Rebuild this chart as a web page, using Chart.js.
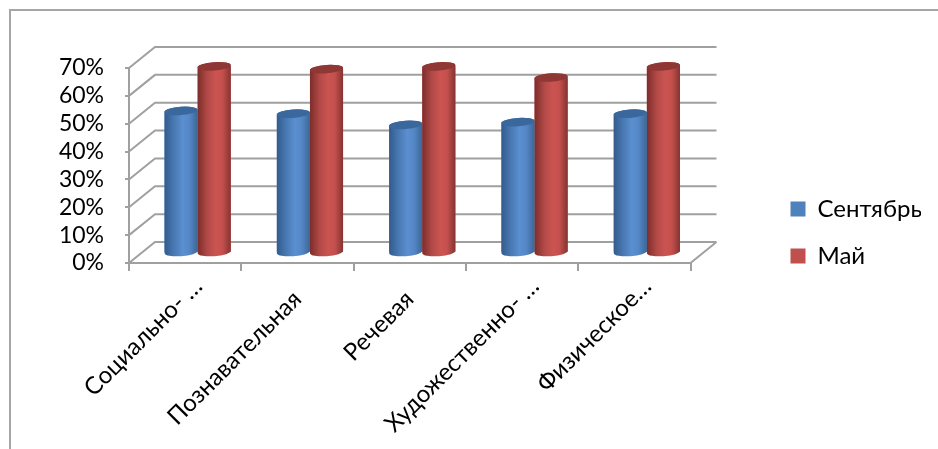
<!DOCTYPE html>
<html>
<head>
<meta charset="utf-8">
<script src="https://cdn.jsdelivr.net/npm/chart.js@4"></script>
<style>
  html, body { margin: 0; padding: 0; background: #fff; }
  #wrap { position: relative; width: 938px; height: 449px; overflow: hidden; }
  #frame { position: absolute; left: 9px; top: 9px; right: -4px; bottom: -4px; border: 2px solid #a6a6a6; }
  canvas { position: absolute; left: 0; top: 0; }
</style>
</head>
<body>
<div id="wrap">
  <div id="frame"></div>
  <canvas id="chart" width="938" height="449"></canvas>
</div>
<script>
const categories = ['Социально- …', 'Познавательная', 'Речевая', 'Художественно- …', 'Физическое…'];
const september = [51, 50, 46, 47, 50];
const may = [67, 66, 67, 63, 67];
const yTicks = [0, 10, 20, 30, 40, 50, 60, 70];

const axisColor = '#a0a0a0';
const FONT = 'Lato, "Noto Sans", sans-serif';
// depth of the fake 3d box and where the bars stand in it
const depth = { x: 26, y: -21 };
const barShift = { x: 12.5, y: -10 };

// back wall, side wall and floor, drawn behind the bars
const box3d = {
  id: 'box3d',
  beforeDatasetsDraw(chart) {
    const { ctx, scales: { x, y } } = chart;
    const left = x.left, right = x.right;
    ctx.save();
    ctx.strokeStyle = axisColor;
    ctx.lineWidth = 2;
    ctx.beginPath();
    yTicks.forEach(v => {
      const py = y.getPixelForValue(v);
      ctx.moveTo(left, py);
      ctx.lineTo(left + depth.x, py + depth.y);
      ctx.lineTo(right + depth.x, py + depth.y);
    });
    const p0 = y.getPixelForValue(0);
    ctx.moveTo(right, p0);
    ctx.lineTo(right + depth.x, p0 + depth.y);
    ctx.stroke();
    ctx.restore();
  }
};

// turns each bar into a cylinder, painted here so the red ones end up over the blue
const shades = [
  { stops: ['#335b8c', '#4a7ab5', '#5b8fd0', '#5587c6', '#3a6798'], top: '#3b689c' },
  { stops: ['#7c2d2b', '#b34a47', '#cb5451', '#c4504d', '#853331'], top: '#8f3735' }
];
const cylinders = {
  id: 'cylinders',
  beforeDatasetsDraw(chart) {
    chart.ctx.save();
    chart.ctx.translate(barShift.x, barShift.y);
  },
  afterDatasetsDraw(chart) {
    const { ctx } = chart;
    chart.data.datasets.forEach((ds, di) => {
      const shade = shades[di];
      chart.getDatasetMeta(di).data.forEach(bar => {
        const l = bar.x - bar.width / 2, r = bar.x + bar.width / 2;
        const rx = bar.width / 2, ry = 4.2, tilt = -0.07;
        const g = ctx.createLinearGradient(l, 0, r, 0);
        [0, 0.3, 0.55, 0.75, 1].forEach((s, i) => g.addColorStop(s, shade.stops[i]));
        ctx.fillStyle = g;
        ctx.beginPath();
        ctx.ellipse(bar.x, bar.base, rx, ry, tilt, 0, Math.PI);
        ctx.ellipse(bar.x, bar.y, rx, ry, tilt, Math.PI, 0);
        ctx.closePath();
        ctx.fill();
        ctx.fillStyle = shade.top;
        ctx.beginPath();
        ctx.ellipse(bar.x, bar.y, rx, ry, tilt, 0, Math.PI * 2);
        ctx.fill();
      });
    });
    ctx.restore();
  }
};

new Chart(document.getElementById('chart'), {
  type: 'bar',
  data: {
    labels: categories,
    datasets: [
      { label: 'Сентябрь', data: september, backgroundColor: '#4f81bd', clip: false,
        categoryPercentage: 0.59, barPercentage: 1 },
      { label: 'Май', data: may, backgroundColor: '#c0504d', clip: false,
        categoryPercentage: 0.59, barPercentage: 1 }
    ]
  },
  options: {
    responsive: false,
    animation: false,
    layout: { padding: { top: 68, bottom: 11, left: 0, right: 17 } },
    plugins: {
      tooltip: { enabled: false },
      legend: {
        position: 'right',
        align: 'start',
        // blank title only pushes the entries down to their place
        title: { display: true, text: ' ', font: { size: 10 }, padding: { top: 0, bottom: 94 } },
        labels: {
          color: '#000',
          font: { family: FONT, size: 24 },
          boxWidth: 15,
          boxHeight: 15,
          padding: 23
        }
      }
    },
    scales: {
      x: {
        grid: { color: axisColor, lineWidth: 2, drawOnChartArea: false, tickLength: 8 },
        border: { color: axisColor, width: 2 },
        ticks: {
          color: '#000',
          font: { family: FONT, size: 24 },
          minRotation: 45,
          maxRotation: 45,
          autoSkip: false,
          labelOffset: 13,
          padding: 1,
          // the two unshortened labels sit a little further down their slant
          callback: (v, i) => categories[i] + (i === 1 || i === 2 ? '\u00a0\u00a0\u00a0' : '')
        },
        afterFit(s) { s.height = 175; }
      },
      y: {
        min: 0,
        max: 70,
        grid: { color: axisColor, lineWidth: 2, drawOnChartArea: false, tickLength: 4 },
        border: { color: axisColor, width: 2 },
        ticks: {
          color: '#000',
          font: { family: FONT, size: 23 },
          stepSize: 10,
          autoSkip: false,
          padding: 21,
          callback: v => v + '%'
        },
        afterFit(s) { s.width = 129; }
      },
      // empty axis, keeps the room between the plot and the legend
      gutter: {
        position: 'right',
        grid: { display: false },
        border: { display: false },
        ticks: { display: false },
        afterFit(s) { s.width = 77; }
      }
    }
  },
  plugins: [box3d, cylinders]
});
</script>
</body>
</html>
